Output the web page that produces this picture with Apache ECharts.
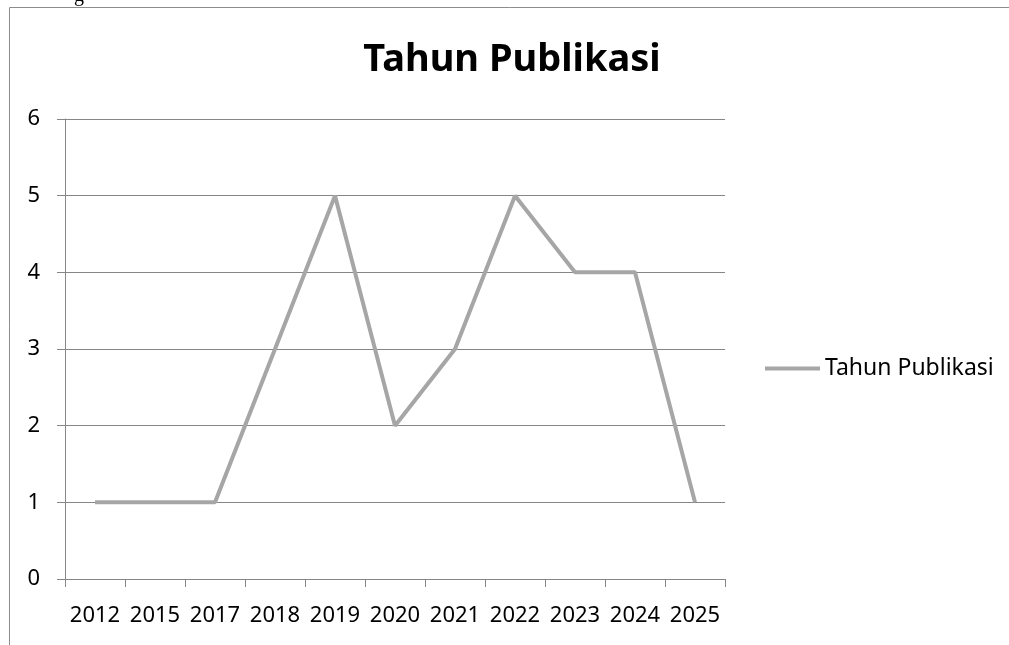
<!DOCTYPE html>
<html>
<head>
<meta charset="utf-8">
<script src="https://cdn.jsdelivr.net/npm/echarts@6/dist/echarts.min.js"></script>
<style>
  html, body { margin: 0; padding: 0; background: #fff; }
  #chart { width: 1009px; height: 645px; }
</style>
</head>
<body>
<div id="chart"></div>
<script>
// tahun
const years = ['2012', '2015', '2017', '2018', '2019', '2020', '2021', '2022', '2023', '2024', '2025']
// jumlah publikasi
const counts = [1, 1, 1, 3, 5, 2, 3, 5, 4, 4, 1]
const seriesName = 'Tahun Publikasi'

const axisGray = '#868686'
const font = 'Noto Sans'

const chart = echarts.init(document.getElementById('chart'))
chart.setOption({
  animation: false,
  graphic: [{
    type: 'rect',
    shape: { x: 9.5, y: 7.5, width: 1020, height: 660 },
    style: { fill: 'none', stroke: '#8c8c8c', lineWidth: 1 },
    silent: true
  }, {
    type: 'text',
    style: {
      x: 512, y: 60, text: 'Tahun Publikasi',
      font: 'bold 38px "Noto Sans"', fill: '#000',
      textAlign: 'center', textVerticalAlign: 'middle'
    }
  }, {
    type: 'text',
    style: {
      x: 79, y: -14, text: 'g',
      font: '20px "Liberation Serif"', fill: '#000',
      textAlign: 'center', textVerticalAlign: 'top'
    }
  }],
  legend: {
    data: [seriesName],
    left: 760,
    top: 352,
    icon: 'rect',
    itemWidth: 55,
    itemHeight: 4,
    textStyle: { fontFamily: font, fontSize: 23, color: '#000' }
  },
  grid: {
    left: 65,
    right: 284,
    top: 119,
    bottom: 66
  },
  xAxis: {
    type: 'category',
    data: years,
    boundaryGap: true,
    axisLine: { lineStyle: { color: axisGray, width: 1 } },
    axisTick: { show: true, length: 8, inside: false, lineStyle: { color: axisGray } },
    axisLabel: { fontFamily: font, fontSize: 22, color: '#000', margin: 26, interval: 0 }
  },
  yAxis: {
    type: 'value',
    min: 0,
    max: 6,
    interval: 1,
    axisLine: { show: true, lineStyle: { color: axisGray, width: 1 } },
    axisTick: { show: true, length: 8, lineStyle: { color: axisGray } },
    splitLine: { show: true, lineStyle: { color: axisGray, width: 1 } },
    axisLabel: { fontFamily: font, fontSize: 22, color: '#000', margin: 25 }
  },
  series: [{
    name: seriesName,
    type: 'line',
    data: counts,
    showSymbol: false,
    symbol: 'none',
    color: '#a6a6a6',
    lineStyle: { color: '#a6a6a6', width: 4 }
  }]
})
</script>
</body>
</html>
